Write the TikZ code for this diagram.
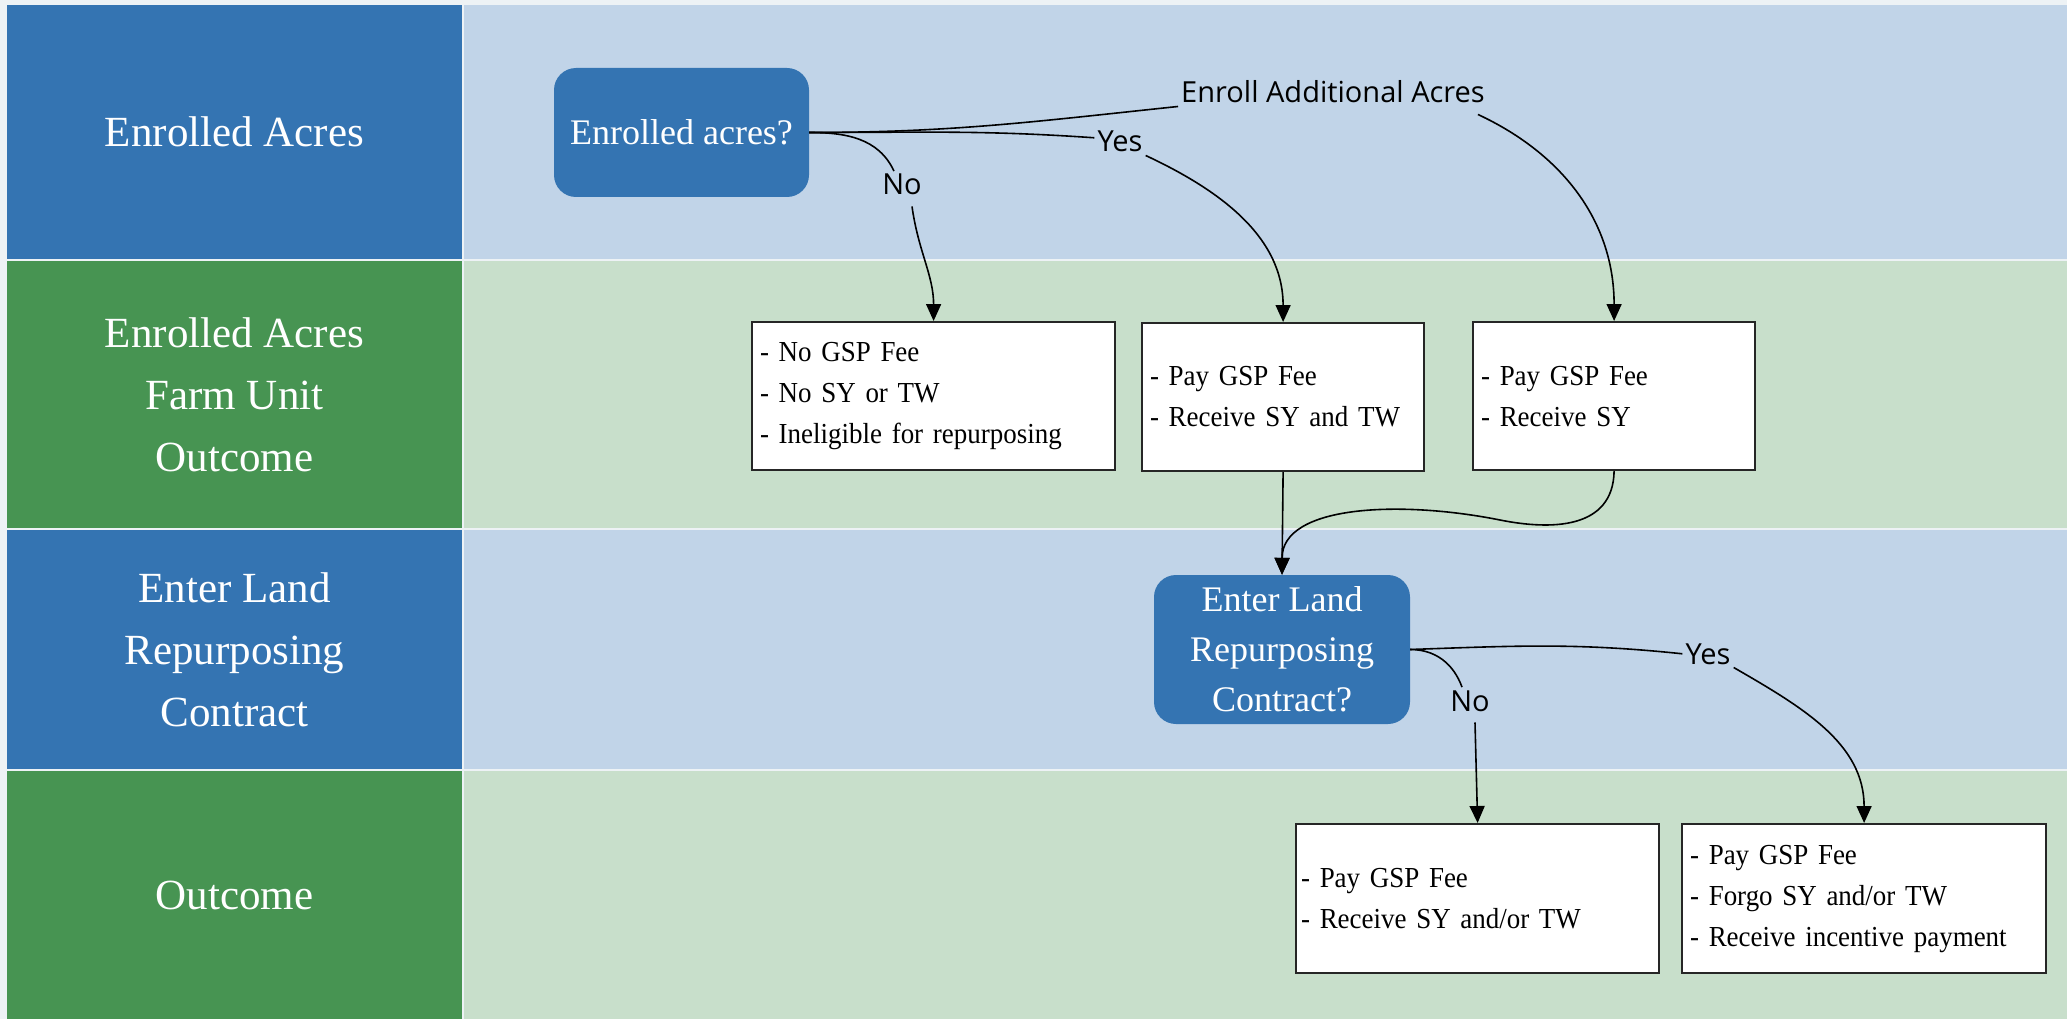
\documentclass[tikz,border=0pt]{standalone}
\usepackage{fontspec}
\setmainfont{Liberation Serif}
\newfontfamily\lblfont{Open Sans}
\newfontfamily\boxfont[FakeStretch=0.93]{Liberation Serif}
\usetikzlibrary{arrows.meta}
\definecolor{hdrblue}{HTML}{3474B2}
\definecolor{hdrgreen}{HTML}{479452}
\definecolor{laneblue}{HTML}{C1D4E8}
\definecolor{lanegreen}{HTML}{C8DFCB}
\definecolor{seam}{HTML}{EDF2F5}
\begin{document}
\begin{tikzpicture}[x=1pt,y=-1pt,
  hdr/.style={text=white, font=\fontsize{43}{62}\selectfont, align=center,
              inner sep=0pt, minimum width=455pt},
  decision/.style={fill=hdrblue, rounded corners=22pt, text=white,
                   font=\fontsize{36}{50}\selectfont, align=center, inner sep=0pt},
  outbox/.style={draw=black!85, line width=2.2pt, fill=white,
                 font=\boxfont\fontsize{29}{41}\selectfont, align=left,
                 inner xsep=8pt, inner ysep=0pt, anchor=north west},
  lbl/.style={font=\lblfont\fontsize{29}{34}\selectfont, inner sep=3pt, anchor=base},
  flow/.style={line width=1.6pt, draw=black},
  tip/.style={flow, -{Triangle[length=17pt,width=15pt]}},
]
\useasboundingbox (0,0) rectangle (2067,1019);
\fill[seam] (0,0) rectangle (2067,1019);

% swimlane backgrounds
\fill[laneblue]  (464,5)   rectangle (2067,259);
\fill[lanegreen] (464,261) rectangle (2067,528);
\fill[laneblue]  (464,530) rectangle (2067,769);
\fill[lanegreen] (464,771) rectangle (2067,1019);

% swimlane headers
\node[hdr, fill=hdrblue,  minimum height=254pt] (h1) at (234.5,132)   {Enrolled Acres};
\node[hdr, fill=hdrgreen, minimum height=267pt] (h2) at (234.5,394.5) {Enrolled Acres\\Farm Unit\\Outcome};
\node[hdr, fill=hdrblue,  minimum height=239pt] (h3) at (234.5,649.5) {Enter Land\\Repurposing\\Contract};
\node[hdr, fill=hdrgreen, minimum height=248pt] (h4) at (234.5,895)   {Outcome};

% decisions
\node[decision, minimum width=255pt, minimum height=129pt] (q1) at (681.5,132.5) {Enrolled acres?};
\node[decision, minimum width=256pt, minimum height=149pt] (d2) at (1282,649.5) {Enter Land\\Repurposing\\Contract?};

% outcome boxes
\node[outbox, minimum width=363pt, minimum height=148pt, text width=347pt] (b1) at (751,321)
  {- No GSP Fee\\- No SY or TW\\- Ineligible for repurposing};
\node[outbox, minimum width=282pt, minimum height=148pt, text width=266pt] (b2) at (1141,322)
  {- Pay GSP Fee\\- Receive SY and TW};
\node[outbox, minimum width=282pt, minimum height=148pt, text width=266pt] (b3) at (1472,321)
  {- Pay GSP Fee\\- Receive SY};
\node[outbox, minimum width=363pt, minimum height=149pt, text width=353pt, inner xsep=5pt] (b4) at (1295,823)
  {- Pay GSP Fee\\- Receive SY and/or TW};
\node[outbox, minimum width=364pt, minimum height=149pt, text width=348pt] (b5) at (1681,823)
  {- Pay GSP Fee\\- Forgo SY and/or TW\\- Receive incentive payment};

% connector labels
\node[lbl] (lblE)  at (1333,103) {Enroll Additional Acres};
\node[lbl] (lblY)  at (1120,152) {Yes};
\node[lbl] (lblN)  at (902,195)  {No};
\node[lbl] (lblY2) at (1708,664) {Yes};
\node[lbl] (lblN2) at (1470,711) {No};

% connectors from the first decision
\draw[flow] (q1.east) to[out=0,in=186] (lblE.south west);
\draw[tip] ([xshift=-10pt,yshift=-8pt]lblE.south east) to[out=-25,in=90] (b3.north);
\draw[flow] (q1.east) to[out=0,in=176] ([yshift=4pt]lblY.west);
\draw[tip] (lblY.south east) to[out=-25,in=90] (b2.north);
\draw[flow] (q1.east) to[out=0,in=115] ([xshift=-8pt]lblN.north);
\draw[tip] ([xshift=10pt,yshift=-8pt]lblN.south) to[out=-82,in=90] (b1.north);

% merge into the second decision
\draw[tip] (b2.south) -- (d2.north);
\draw[tip] (b3.south) .. controls (1613,530) and (1550,530) .. (1500,520)
                      .. controls (1400,500) and (1282,505) .. (d2.north);

% connectors from the second decision
\draw[flow] (d2.east) to[out=2,in=174] (lblY2.west);
\draw[tip] (lblY2.south east) to[out=-30,in=90] (b5.north);
\draw[flow] (d2.east) to[out=0,in=110] ([xshift=-8pt]lblN2.north);
\draw[tip] ([xshift=5pt,yshift=-8pt]lblN2.south) -- (b4.north);
\end{tikzpicture}
\end{document}
